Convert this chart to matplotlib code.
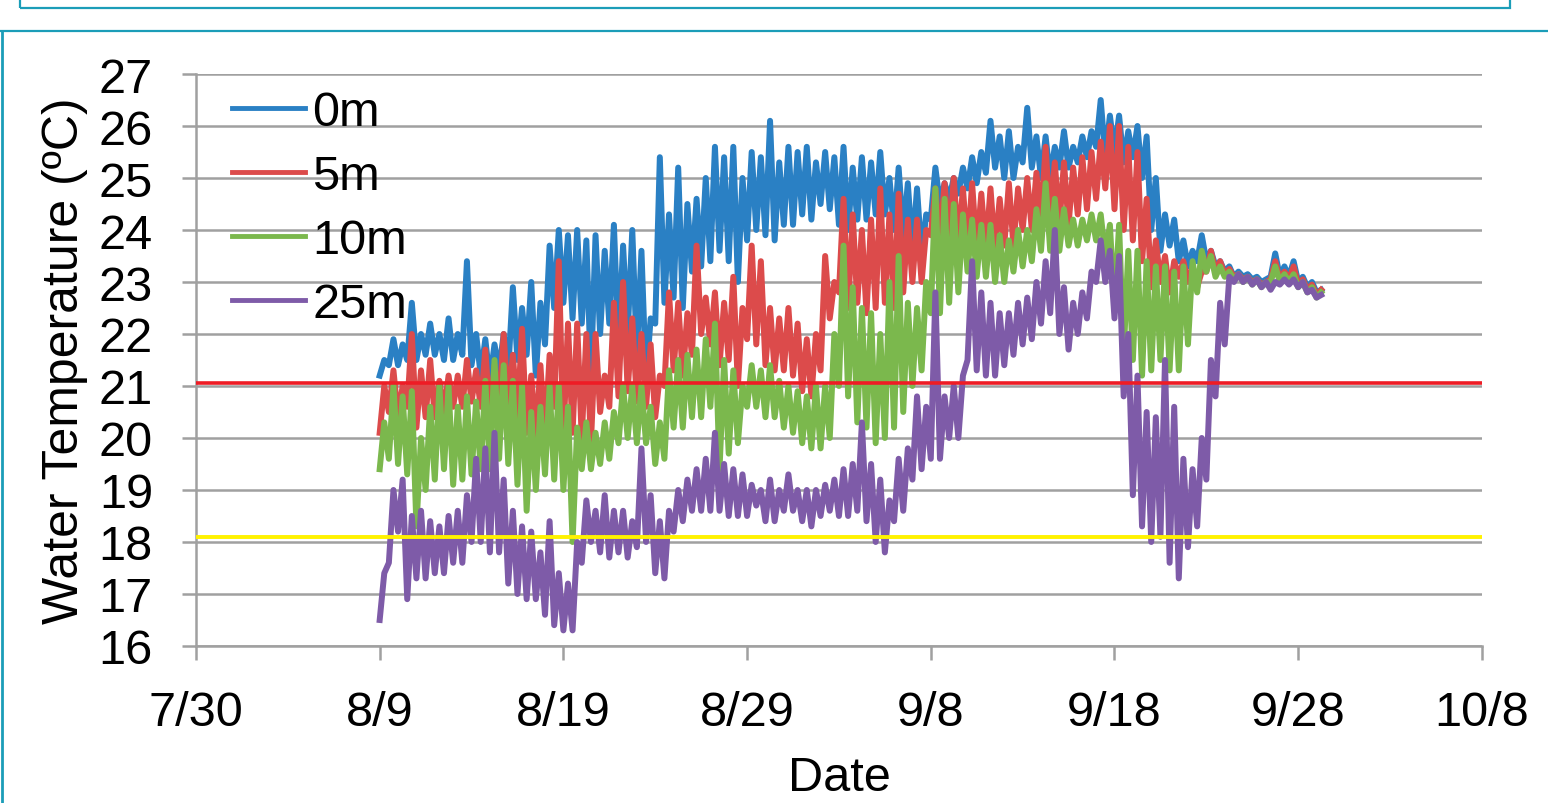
import numpy as np
import matplotlib
matplotlib.use("Agg")
import matplotlib.pyplot as plt
from matplotlib.lines import Line2D
from matplotlib.patches import Rectangle

plt.rcParams['font.family'] = ['Liberation Sans', 'DejaVu Sans']

# days after 7/30; one high and one low reading per half day, from 8/9
start_day = 10
step = 0.5

tick_days = [0, 10, 20, 30, 40, 50, 60, 70]
tick_labels = ["7/30", "8/9", "8/19", "8/29", "9/8", "9/18", "9/28", "10/8"]

hi_0m = [21.5, 21.9, 21.8, 22.6, 22.0, 22.2, 22.0, 22.3, 22.0, 23.4,
         22.0, 21.9, 21.8, 22.0, 22.9, 22.5, 23.0, 22.6, 23.7, 24.0,
         23.9, 24.0, 23.8, 23.9, 23.6, 24.1, 23.7, 24.0, 23.6, 22.3,
         25.4, 24.3, 25.2, 24.5, 24.6, 25.0, 25.6, 25.4, 25.6, 25.0,
         25.5, 25.4, 26.1, 25.3, 25.6, 25.5, 25.6, 25.3, 25.5, 25.4,
         25.6, 25.2, 25.4, 25.3, 25.5, 25.0, 25.2, 24.9, 24.8, 24.3,
         25.2, 24.9, 25.0, 25.2, 25.4, 25.5, 26.1, 25.8, 25.9, 25.6,
         26.35, 25.8, 25.8, 25.6, 25.9, 25.6, 25.8, 25.9, 26.5, 26.2,
         26.2, 25.9, 26.0, 25.8, 25.0, 24.3, 24.2, 23.8, 23.6, 23.9,
         23.6, 23.4, 23.3, 23.2, 23.15, 23.1, 23.05, 23.55, 23.3, 23.4,
         23.1, 23.0, 22.85]
lo_0m = [21.2, 21.4, 21.4, 21.5, 21.5, 21.6, 21.6, 21.5, 21.5, 21.6,
         21.4, 21.2, 21.1, 21.3, 21.3, 21.5, 21.6, 21.2, 21.8, 22.5,
         22.6, 22.3, 22.2, 21.2, 22.0, 22.2, 21.8, 22.0, 21.6, 21.1,
         22.2, 22.6, 22.7, 22.5, 23.2, 23.3, 23.4, 23.6, 23.4, 23.0,
         23.8, 24.0, 23.9, 23.8, 24.1, 24.1, 24.3, 24.2, 24.5, 24.4,
         24.1, 24.0, 24.2, 24.2, 24.3, 24.3, 24.0, 23.9, 23.6, 23.5,
         24.2, 24.5, 24.6, 24.7, 24.8, 24.9, 25.1, 25.2, 25.0, 25.0,
         25.3, 25.2, 25.0, 25.0, 25.2, 25.2, 25.3, 25.4, 25.6, 25.4,
         25.5, 25.3, 25.4, 25.0, 24.0, 23.6, 23.7, 23.4, 23.3, 23.4,
         23.4, 23.3, 23.2, 23.1, 23.1, 23.05, 23.0, 23.1, 23.1, 23.1,
         23.0, 22.9, 22.8]

hi_5m = [21.0, 21.3, 21.0, 22.0, 21.3, 21.5, 21.1, 21.2, 21.2, 21.5,
         21.3, 21.7, 21.4, 22.0, 21.6, 22.1, 21.2, 21.4, 21.6, 23.4,
         22.2, 22.2, 22.0, 22.0, 21.2, 22.6, 23.0, 22.3, 22.0, 21.8,
         21.2, 22.8, 22.6, 22.4, 23.7, 22.7, 22.8, 22.6, 23.1, 22.5,
         23.7, 23.4, 22.5, 22.3, 22.5, 22.2, 21.9, 22.0, 23.5, 23.0,
         24.6, 24.3, 24.0, 24.2, 24.8, 24.3, 24.7, 24.2, 24.2, 24.0,
         24.8, 24.9, 25.0, 24.8, 24.9, 24.7, 24.8, 24.6, 24.9, 24.8,
         25.0, 25.1, 25.6, 25.3, 25.3, 25.2, 25.4, 25.5, 25.7, 26.0,
         26.0, 25.6, 25.5, 24.6, 23.8, 23.5, 23.4, 23.4, 23.3, 23.2,
         23.6, 23.4, 23.25, 23.15, 23.1, 23.05, 23.0, 23.4, 23.2, 23.3,
         23.05, 22.95, 22.85]
lo_5m = [20.1, 20.5, 20.4, 20.6, 20.2, 20.4, 20.4, 20.5, 20.6, 20.6,
         20.7, 20.6, 20.4, 20.6, 20.6, 20.4, 20.1, 20.0, 20.0, 20.6,
         20.0, 20.1, 20.0, 19.9, 20.5, 20.6, 20.8, 20.9, 20.7, 20.6,
         20.4, 21.0, 21.3, 21.2, 21.6, 22.0, 21.8, 21.4, 21.5, 21.0,
         21.9, 21.8, 21.4, 21.3, 21.3, 21.2, 20.9, 20.8, 21.3, 22.3,
         22.8, 22.5, 22.6, 22.4, 22.5, 22.6, 22.5, 22.8, 23.0, 23.0,
         23.9, 23.8, 23.8, 23.7, 23.6, 23.6, 23.6, 23.6, 23.7, 23.7,
         24.0, 24.0, 24.2, 24.2, 24.1, 24.1, 24.3, 24.4, 24.6, 24.8,
         24.4, 24.0, 23.8, 23.4, 22.9, 23.0, 22.8, 23.1, 23.0, 22.9,
         23.2, 23.2, 23.15, 23.1, 23.05, 23.0, 22.95, 23.05, 23.05, 23.05,
         22.95, 22.85, 22.75]

hi_10m = [20.3, 21.0, 20.8, 20.9, 20.0, 20.6, 21.0, 21.0, 20.6, 20.8,
          20.7, 21.1, 21.5, 21.4, 21.1, 21.0, 20.5, 20.6, 21.0, 21.0,
          20.6, 20.2, 20.3, 20.1, 20.3, 20.5, 21.0, 21.0, 21.0, 20.6,
          20.3, 21.3, 21.5, 21.6, 21.7, 21.9, 22.2, 21.5, 21.3, 21.0,
          21.4, 21.3, 21.4, 21.1, 21.0, 20.9, 20.8, 21.0, 21.0, 22.0,
          23.7, 22.9, 22.5, 22.4, 22.0, 23.0, 23.5, 22.6, 22.5, 23.0,
          24.8, 24.6, 24.5, 24.3, 24.2, 24.1, 24.1, 23.9, 23.8, 24.0,
          24.0, 24.4, 24.9, 24.6, 24.4, 24.2, 24.2, 24.3, 24.3, 24.1,
          24.1, 23.6, 23.6, 23.4, 23.3, 23.3, 23.2, 23.3, 23.4, 23.6,
          23.5, 23.3, 23.2, 23.15, 23.1, 23.05, 23.0, 23.3, 23.15, 23.15,
          23.0, 22.9, 22.8]
lo_10m = [19.4, 19.6, 19.5, 19.3, 18.3, 19.0, 19.2, 19.4, 19.1, 19.2,
          19.3, 19.4, 19.4, 19.6, 19.5, 19.1, 18.6, 19.0, 19.3, 19.2,
          19.0, 18.0, 19.4, 19.4, 19.5, 19.6, 19.9, 20.0, 19.9, 19.9,
          19.5, 19.6, 20.2, 20.2, 20.4, 20.4, 20.6, 19.4, 19.7, 19.9,
          20.6, 20.6, 20.4, 20.4, 20.2, 20.1, 19.9, 19.8, 19.8, 20.0,
          21.0, 20.8, 20.3, 20.2, 19.9, 20.0, 20.2, 20.5, 21.0, 21.3,
          22.4, 22.4, 22.6, 22.8, 23.2, 23.1, 23.1, 23.0, 23.0, 23.2,
          23.3, 23.4, 23.6, 23.6, 23.6, 23.7, 23.7, 23.8, 23.8, 23.5,
          22.5, 21.6, 21.5, 21.2, 21.3, 21.5, 21.3, 21.3, 21.8, 22.8,
          23.2, 23.1, 23.1, 23.05, 23.0, 22.95, 22.9, 23.0, 23.0, 23.0,
          22.9, 22.8, 22.7]

hi_25m = [17.4, 19.0, 19.2, 18.5, 18.6, 18.4, 18.3, 18.5, 18.6, 18.9,
          19.6, 19.8, 20.1, 19.2, 18.6, 18.3, 18.2, 17.8, 18.4, 17.4,
          17.2, 18.0, 18.8, 18.6, 18.9, 18.6, 18.6, 18.4, 19.8, 18.9,
          18.4, 18.6, 19.0, 19.2, 19.4, 19.6, 20.1, 19.5, 19.4, 19.3,
          19.1, 19.0, 19.2, 19.0, 19.3, 19.0, 19.0, 19.0, 19.1, 19.2,
          19.4, 19.5, 20.3, 19.5, 19.2, 18.8, 19.6, 19.8, 20.8, 20.6,
          22.8, 20.8, 21.0, 21.2, 23.4, 22.8, 22.6, 22.4, 22.4, 22.6,
          22.7, 23.0, 23.4, 24.0, 22.9, 22.6, 22.8, 23.2, 23.8, 23.6,
          23.5, 22.0, 21.2, 20.5, 20.4, 21.5, 20.6, 19.6, 19.4, 20.0,
          21.5, 22.6, 23.1, 23.15, 23.1, 23.05, 23.0, 23.0, 23.05, 23.05,
          23.0, 22.85, 22.75]
lo_25m = [16.5, 17.6, 18.2, 16.9, 17.3, 17.3, 17.4, 17.4, 17.6, 17.6,
          18.0, 18.0, 17.8, 17.8, 17.2, 17.0, 16.9, 16.9, 16.6, 16.4,
          16.3, 16.3, 17.6, 18.0, 17.8, 17.7, 17.8, 17.7, 17.9, 18.0,
          17.4, 17.3, 18.2, 18.4, 18.6, 18.6, 18.6, 18.6, 18.5, 18.5,
          18.5, 18.7, 18.4, 18.4, 18.6, 18.6, 18.4, 18.3, 18.5, 18.6,
          18.5, 18.5, 18.6, 18.4, 18.0, 17.8, 18.4, 18.6, 19.2, 19.4,
          19.6, 19.6, 20.0, 20.0, 21.5, 21.3, 21.2, 21.2, 21.4, 21.6,
          21.8, 21.9, 22.2, 22.4, 22.0, 21.7, 22.0, 22.3, 23.0, 23.0,
          22.3, 20.8, 18.9, 18.3, 18.0, 18.1, 17.6, 17.3, 17.9, 18.3,
          19.2, 20.8, 21.8, 23.0, 23.0, 22.95, 22.9, 22.85, 22.95, 22.95,
          22.9, 22.8, 22.7]

upper_limit = 21.05
lower_limit = 18.1

days = start_day + step * np.arange(len(hi_0m))
t = np.column_stack([days, days + step / 2]).ravel()


def zig(lo, hi):
    return np.column_stack([lo, hi]).ravel()


fig = plt.figure(figsize=(15.48, 8.04), dpi=100)
ax = fig.add_axes([0.1266, 0.1953, 0.8307, 0.7114])

lw = 4.3
ax.plot(t, zig(lo_0m, hi_0m), color="#2a80c4", lw=lw, label="0m")
ax.plot(t, zig(lo_5m, hi_5m), color="#dc4b4b", lw=lw, label="5m")
ax.plot(t, zig(lo_10m, hi_10m), color="#7bb84d", lw=lw, label="10m")
ax.plot(t, zig(lo_25m, hi_25m), color="#7e5ba8", lw=lw, label="25m")

ax.axhline(upper_limit, color="#ee1c25", lw=2.6, zorder=5)
ax.axhline(lower_limit, color="#fff200", lw=2.8, zorder=5)

ax.set_xlim(0, 70)
ax.set_ylim(16, 27)
ax.set_xticks(tick_days)
ax.set_xticklabels(tick_labels)
ax.set_yticks(range(16, 28))
ax.grid(axis="y", color="#a0a0a0", lw=1.8)
ax.set_axisbelow(True)
for s in ["top", "right"]:
    ax.spines[s].set_visible(False)
for s in ["left", "bottom"]:
    ax.spines[s].set_color("#a0a0a0")
    ax.spines[s].set_linewidth(1.8)
ax.tick_params(axis="y", length=10, width=1.8, color="#a0a0a0", pad=21, labelsize=35)
ax.tick_params(axis="x", length=10, width=1.8, color="#a0a0a0", pad=22, labelsize=35)

ax.set_xlabel("Date", fontsize=35, labelpad=14)
ax.set_ylabel("Water Temperature (ºC)", fontsize=36, labelpad=8)

leg = ax.legend(loc="upper left", bbox_to_anchor=(0.028, 0.972), frameon=False,
                fontsize=35, handlelength=1.5, handletextpad=0.15,
                labelspacing=0.39, borderpad=0, borderaxespad=0)
for h in leg.get_lines():
    h.set_linewidth(3.5)

teal = "#1b9db8"
fig.add_artist(Rectangle((20 / 1548, 795 / 804), 1490 / 1548, 20 / 804,
                         transform=fig.transFigure, fill=False, edgecolor=teal, lw=1.6))
fig.add_artist(Line2D([0, 1], [772 / 804, 772 / 804], transform=fig.transFigure,
                      color=teal, lw=1.6))
fig.add_artist(Line2D([2 / 1548, 2 / 1548], [0, 772 / 804], transform=fig.transFigure,
                      color=teal, lw=2))

fig.savefig("out.png", dpi=100)
